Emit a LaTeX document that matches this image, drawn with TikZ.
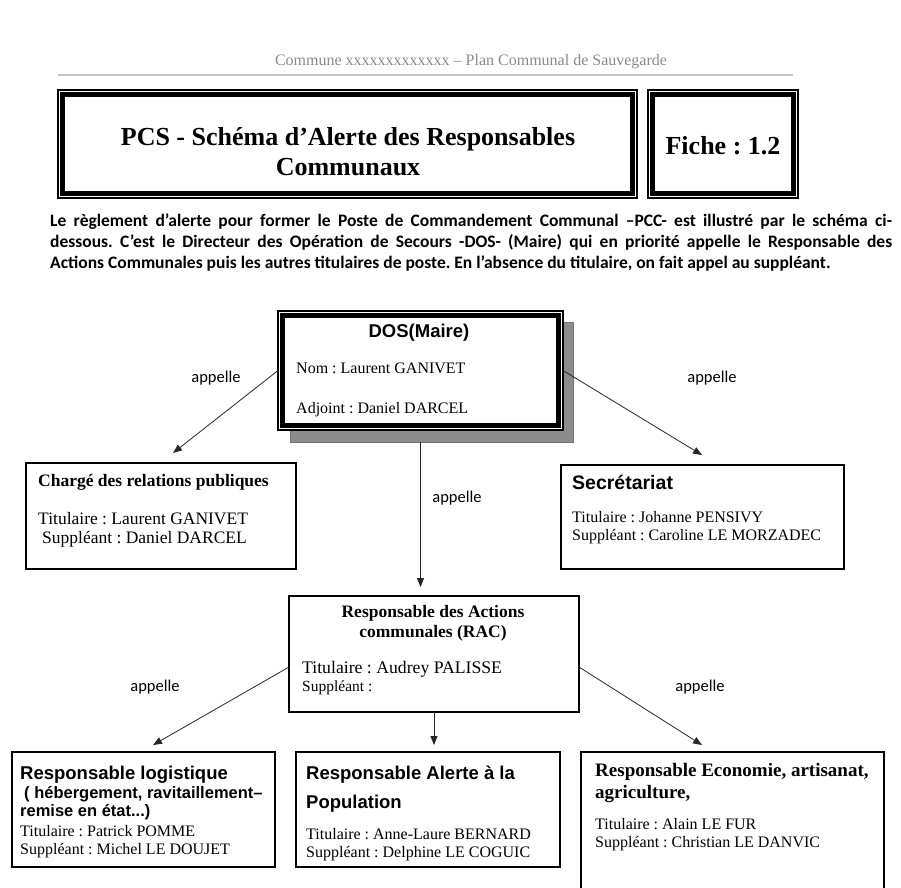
\documentclass[tikz,border=0pt]{standalone}
\usepackage{fontspec}
\setmainfont{Liberation Serif}
\newfontfamily\calibri{Carlito}
\newfontfamily\tahoma{Liberation Sans}
\usetikzlibrary{positioning, arrows.meta}
\frenchspacing

\definecolor{entete}{HTML}{8A8A8A}
\definecolor{filet}{HTML}{C4C4C4}
\definecolor{ombre}{HTML}{8C8C8C}

\tikzset{
  boite/.style={draw, line width=1.1pt, fill=white, inner sep=0pt, outer sep=0pt},
  fleche/.style={draw=black!85, line width=0.8pt, -{Triangle[length=9pt,width=7pt]}},
  appel/.style={font=\calibri\fontsize{16.5}{20}\selectfont},
  txt/.style={anchor=base west, inner sep=0pt, font=\fontsize{16}{19}\selectfont},
  titrebox/.style={anchor=base west, inner sep=0pt, font=\tahoma\bfseries\fontsize{18.5}{22}\selectfont},
}

\begin{document}
\begin{tikzpicture}[x=1pt,y=-1pt]
\useasboundingbox (0,0) rectangle (901,887);

% en-tete de page
\node[font=\fontsize{16}{19}\selectfont, text=entete] (entete) at (471,62) {Commune xxxxxxxxxxxxx – Plan Communal de Sauvegarde};
\draw[filet, line width=1.3pt] (58,75) -- (793,75);

% cartouche
\node[boite, minimum width=579pt, minimum height=108pt] (titre) at (347.5,144) {};
\node[font=\bfseries\fontsize{26}{30}\selectfont, align=center] (titretxt) at (348,152) {PCS - Schéma d’Alerte des Responsables\\Communaux};
\node[boite, minimum width=150pt, minimum height=108pt] (fiche) at (723,144) {};
\node[font=\bfseries\fontsize{26}{30}\selectfont] (fichetxt) at (723,146) {Fiche : 1.2};

% texte d'introduction
\node[anchor=north west, inner sep=0pt, align=left, font=\calibri\bfseries\fontsize{17.5}{21}\selectfont] (regle) at (50,214) {\makebox[842pt][s]{Le règlement d’alerte pour former le Poste de Commandement Communal –PCC- est illustré par le schéma ci-}\\
\makebox[842pt][s]{dessous. C’est le Directeur des Opération de Secours -DOS- (Maire) qui en priorité appelle le Responsable des}\\
Actions Communales puis les autres titulaires de poste. En l’absence du titulaire, on fait appel au suppléant.};

% DOS
\fill[ombre, draw=black!55, line width=0.6pt] (290,322) rectangle (573,442);
\node[boite, minimum width=285pt, minimum height=119pt] (dos) at (420.5,370.5) {};
\foreach \n in {titre,fiche,dos}
  \draw[line width=4.5pt] ([shift={(4.5pt,-4.5pt)}]\n.north west) rectangle ([shift={(-4.5pt,4.5pt)}]\n.south east);
\node[font=\tahoma\bfseries\fontsize{18.5}{22}\selectfont] (dostitre) at (419,333) {DOS(Maire)};
\node[txt] (dosnom) at (296,373) {Nom : Laurent GANIVET};
\node[txt] (dosadj) at (296,413) {Adjoint : Daniel DARCEL};

% postes appeles par le DOS
\node[boite, minimum width=270pt, minimum height=106pt] (charge) at (161,516) {};
\node[anchor=base west, inner sep=0pt, font=\bfseries\fontsize{17.5}{21}\selectfont] (chargetitre) at (38,486) {Chargé des relations publiques};
\node[txt, font=\fontsize{17.5}{21}\selectfont] (chargetit) at (38,524) {Titulaire : Laurent GANIVET};
\node[txt, font=\fontsize{17.5}{21}\selectfont] (chargesup) at (42,543) {Suppléant : Daniel DARCEL};

\node[boite, minimum width=283pt, minimum height=104pt] (secret) at (702.5,517) {};
\node[titrebox, font=\tahoma\bfseries\fontsize{19.5}{23}\selectfont] (secrettitre) at (572,489) {Secrétariat};
\node[txt] (secrettit) at (572,522) {Titulaire : Johanne PENSIVY};
\node[txt] (secretsup) at (572,540) {Suppléant : Caroline LE MORZADEC};

\node[boite, minimum width=290pt, minimum height=116pt] (rac) at (434,654) {};
\node[font=\bfseries\fontsize{17.5}{20}\selectfont, align=center] (ractitre) at (433,623) {Responsable des Actions\\communales (RAC)};
\node[txt, font=\fontsize{17.7}{21}\selectfont] (ractit) at (302,673) {Titulaire : Audrey PALISSE};
\node[txt, font=\fontsize{15.5}{18}\selectfont] (racsup) at (302,691) {Suppléant :};

% postes appeles par le RAC
\node[boite, minimum width=263pt, minimum height=115pt] (logis) at (143.5,809.5) {};
\node[titrebox] (logistitre) at (20,779) {Responsable logistique};
\node[titrebox, font=\tahoma\bfseries\fontsize{16.5}{20}\selectfont] (logisdet) at (24,798) {( hébergement, ravitaillement–};
\node[titrebox, font=\tahoma\bfseries\fontsize{16.5}{20}\selectfont] (logisdet2) at (20,816) {remise en état...)};
\node[txt] (logistit) at (20,836) {Titulaire : Patrick POMME};
\node[txt] (logissup) at (20,854) {Suppléant : Michel LE DOUJET};

\node[boite, minimum width=264pt, minimum height=115pt] (alerte) at (428,809.5) {};
\node[titrebox] (alertetitre) at (306,779) {Responsable Alerte à la};
\node[titrebox] (alertetitre2) at (306,808) {Population};
\node[txt] (alertetit) at (306,839) {Titulaire : Anne-Laure BERNARD};
\node[txt] (alertesup) at (306,857) {Suppléant : Delphine LE COGUIC};

\node[boite, minimum width=303pt, minimum height=156pt] (eco) at (732.5,830) {};
\node[anchor=base west, inner sep=0pt, font=\bfseries\fontsize{19}{22}\selectfont] (ecotitre) at (595,776) {Responsable Economie, artisanat,};
\node[anchor=base west, inner sep=0pt, font=\bfseries\fontsize{19}{22}\selectfont] (ecotitre2) at (595,798) {agriculture,};
\node[txt] (ecotit) at (595,829) {Titulaire : Alain LE FUR};
\node[txt] (ecosup) at (595,847) {Suppléant : Christian LE DANVIC};

% fleches
\coordinate (pointeA) at (173,453);
\coordinate (pointeB) at (702,455);
\coordinate (pointeC) at (420.5,587);
\coordinate (pointeD) at (153,745);
\coordinate (pointeE) at (434,745);
\coordinate (pointeF) at (702,745);

\draw[fleche] (dos.west) -- (pointeA);
\draw[fleche] (dos.east) -- (pointeB);
\draw[fleche, shorten <=12pt] (dos.south) -- (pointeC);
\draw[fleche] ([yshift=-13pt]rac.west) -- (pointeD);
\draw[fleche] (rac.south) -- (pointeE);
\draw[fleche] ([yshift=-13pt]rac.east) -- (pointeF);

\node[appel] (appelA) at (216,378) {appelle};
\node[appel] (appelB) at (712,378) {appelle};
\node[appel] (appelC) at (457,498) {appelle};
\node[appel] (appelD) at (155,687) {appelle};
\node[appel] (appelE) at (700,687) {appelle};
\end{tikzpicture}
\end{document}
